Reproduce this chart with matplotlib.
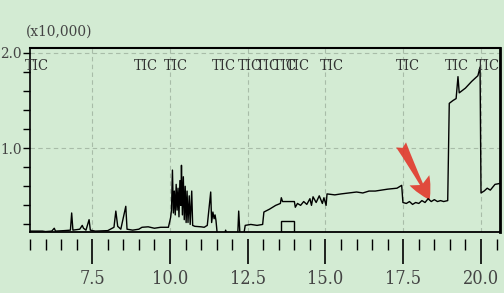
import matplotlib
matplotlib.use('Agg')
import matplotlib.pyplot as plt
from matplotlib import font_manager
from matplotlib.patches import FancyArrowPatch, Rectangle

# retention time (min) and intensity (x10,000)
time = [5.51, 5.90, 6.00, 6.20, 6.28, 6.32, 6.60, 6.80, 6.84, 6.88,
        7.10, 7.18, 7.22, 7.30, 7.40, 7.44, 7.60, 8.00, 8.20, 8.26,
        8.32, 8.42, 8.58, 8.62, 8.80, 9.00, 9.10, 9.30, 9.50, 9.70,
        9.95, 10.02, 10.05, 10.08, 10.11, 10.14, 10.17, 10.20, 10.23, 10.26,
        10.29, 10.32, 10.35, 10.37, 10.40, 10.43, 10.46, 10.49, 10.52, 10.55,
        10.58, 10.62, 10.65, 10.70, 10.73, 10.80, 11.00, 11.10, 11.20, 11.31,
        11.34, 11.38, 11.42, 11.45, 11.48, 11.52, 11.76, 11.79, 11.83, 12.18,
        12.21, 12.25, 12.38, 12.42, 12.60, 12.80, 12.98, 13.02, 13.20, 13.40,
        13.55, 13.58, 13.62, 14.00, 14.03, 14.10, 14.20, 14.30, 14.40, 14.50,
        14.55, 14.60, 14.70, 14.80, 14.90, 14.95, 15.02, 15.05, 15.30, 15.50,
        15.75, 16.00, 16.20, 16.40, 16.60, 16.80, 17.00, 17.30, 17.45, 17.49,
        17.60, 17.70, 17.80, 17.90, 18.00, 18.10, 18.20, 18.30, 18.40, 18.50,
        18.60, 18.70, 18.80, 18.93, 18.98, 19.10, 19.20, 19.26, 19.30, 19.50,
        19.70, 19.90, 19.97, 20.00, 20.10, 20.20, 20.30, 20.45, 20.61]
intensity = [0.13, 0.13, 0.125, 0.13, 0.16, 0.13, 0.135, 0.14, 0.32, 0.14,
             0.15, 0.19, 0.16, 0.14, 0.25, 0.14, 0.13, 0.135, 0.17, 0.34,
             0.18, 0.15, 0.39, 0.15, 0.14, 0.15, 0.17, 0.175, 0.16, 0.17,
             0.17, 0.27, 0.35, 0.77, 0.32, 0.55, 0.30, 0.62, 0.35, 0.58,
             0.28, 0.66, 0.40, 0.82, 0.30, 0.70, 0.25, 0.60, 0.22, 0.55,
             0.22, 0.50, 0.20, 0.55, 0.19, 0.18, 0.175, 0.17, 0.19, 0.54,
             0.22, 0.33, 0.26, 0.30, 0.24, 0.10, 0.10, 0.14, 0.10, 0.10,
             0.34, 0.10, 0.11, 0.19, 0.20, 0.19, 0.20, 0.33, 0.36, 0.40,
             0.42, 0.48, 0.44, 0.44, 0.38, 0.42, 0.40, 0.44, 0.41, 0.47,
             0.40, 0.49, 0.43, 0.50, 0.42, 0.48, 0.40, 0.52, 0.51, 0.52,
             0.53, 0.54, 0.53, 0.55, 0.55, 0.56, 0.57, 0.58, 0.61, 0.43,
             0.42, 0.44, 0.41, 0.43, 0.42, 0.45, 0.43, 0.47, 0.44, 0.46,
             0.44, 0.45, 0.44, 0.45, 1.47, 1.50, 1.52, 1.75, 1.58, 1.63,
             1.70, 1.76, 1.85, 0.53, 0.55, 0.58, 0.56, 0.62, 0.63]

# TIC marker positions along the top
tic_times = [5.73, 9.21, 10.20, 11.72, 12.58, 13.16, 13.71, 14.10, 15.22, 17.66, 19.21, 20.21]

xticks = [7.5, 10.0, 12.5, 15.0, 17.5, 20.0]
xticklabels = ['7.5', '10.0', '12.5', '15.0', '17.5', '20.0']
yticks = [0.2, 0.4, 0.6, 0.8, 1.0, 1.2, 1.4, 1.6, 1.8, 2.0]
yticklabels = ['', '', '', '', '1.0', '', '', '', '', '2.0']

bg = '#d3ebd3'
# the labels are tall and narrow serif; take a condensed face if one is installed
cond = [f.name for f in font_manager.fontManager.ttflist
        if 'Condensed' in f.name or 'Narrow' in f.name or f.stretch in ('condensed', 'semi-condensed')]
serif_cond = [n for n in cond if 'Serif' in n]
if serif_cond:
    font = dict(family=serif_cond[0], stretch='condensed')
else:
    font = dict(family='Liberation Serif')

fig = plt.figure(figsize=(5.04, 2.93), dpi=100, facecolor=bg)
ax = fig.add_axes([0.0595, 0.208, 0.9325, 0.628], facecolor=bg)

ax.plot(time, intensity, color='black', lw=1.0)
ax.set_xlim(5.51, 20.61)
ax.set_ylim(0.12, 2.05)

# grid
for x in xticks:
    ax.axvline(x, color='#a8bca8', lw=0.8, ls=(0, (4, 3)), zorder=0)
for y in [1.0, 2.0]:
    ax.axhline(y, color='#a8bca8', lw=0.8, ls=(0, (4, 3)), zorder=0)

# small selection box
ax.add_patch(Rectangle((13.58, 0.12), 0.42, 0.12, fill=False, ec='black', lw=1.0))

# frame; moving the spine resets the ticks, so do it before the labels
ax.spines['bottom'].set_position(('outward', 5))
ax.spines['bottom'].set_color('none')
ax.plot([0, 1], [0, 0], transform=ax.transAxes, color='black', lw=1.3, clip_on=False)
ax.spines['left'].set_linewidth(1.2)
ax.spines['top'].set_linewidth(1.5)
ax.spines['right'].set_linewidth(2.0)

ax.tick_params(axis='x', which='major', direction='out', length=18, width=1.2, pad=4)
ax.tick_params(axis='x', which='minor', direction='out', length=8, width=1.0)
ax.tick_params(axis='y', direction='out', length=5, width=1.0, pad=1)
ax.set_xticks(xticks)
ax.set_xticks([5.5 + 0.5 * i for i in range(31)], minor=True)
ax.set_xticklabels(xticklabels, fontsize=13, color='#444444', **font)
ax.set_yticks(yticks)
ax.set_yticklabels(yticklabels, fontsize=11, color='#444444', **font)

for t in tic_times:
    ax.text(t, 1.86, 'TIC', ha='center', va='center', fontsize=10.5, color='#333333', **font)

fig.text(0.052, 0.88, '(x10,000)', fontsize=11, color='#444444', **font)

# red arrow
arrow = FancyArrowPatch((17.39, 1.06), (18.39, 0.43),
                        arrowstyle='fancy,head_length=1.6,head_width=1.6,tail_width=0.8',
                        mutation_scale=10, color='#e2382c', alpha=0.9, lw=0)
ax.add_patch(arrow)

fig.savefig('out.png', dpi=100, facecolor=bg)
